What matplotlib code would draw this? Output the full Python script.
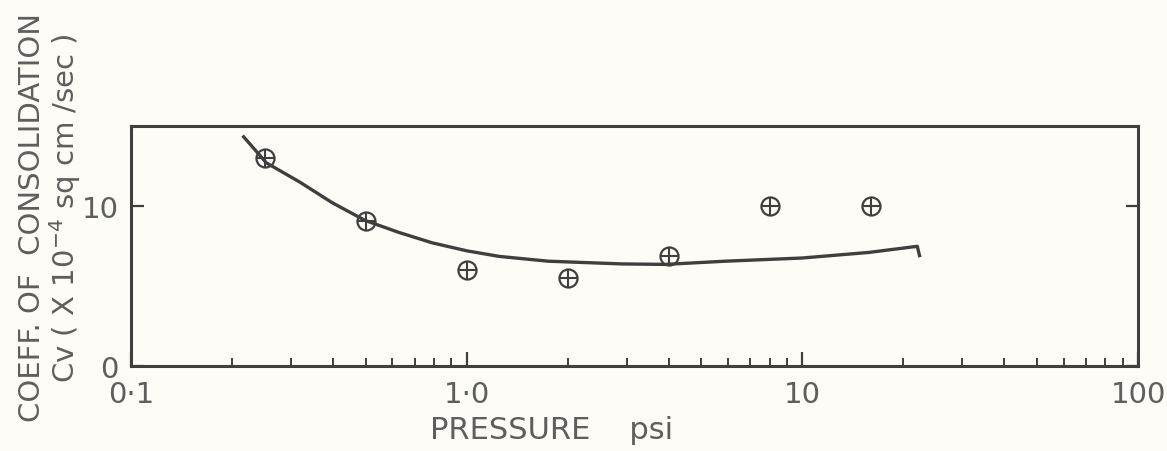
#!/usr/bin/env python3
import matplotlib
matplotlib.use("Agg")
import matplotlib.pyplot as plt
from matplotlib.ticker import FixedLocator, FixedFormatter, LogLocator, NullFormatter

# measured points: pressure (psi) vs Cv (x 1e-4 sq cm/sec)
pressure = [0.25, 0.5, 1.0, 2.0, 4.0, 8.0, 16.0]
cv = [13.0, 9.05, 6.0, 5.5, 6.85, 10.0, 10.0]

# hand-fitted trend line
curve_p = [0.215, 0.253, 0.318, 0.398, 0.498, 0.628, 0.789, 1.0, 1.25,
           1.75, 2.9, 3.9, 5.9, 10.0, 15.8, 22.0, 22.4]
curve_cv = [14.4, 12.7, 11.5, 10.2, 9.1, 8.35, 7.7, 7.2, 6.85,
            6.55, 6.38, 6.35, 6.55, 6.75, 7.1, 7.48, 6.8]

x_ticks = [0.1, 1.0, 10.0, 100.0]
x_tick_labels = ["0\u00b71", "1\u00b70", "10", "100"]
y_ticks = [0, 10]
y_tick_labels = ["0", "10"]

INK = "#3f3f3f"
TEXT = "#5e5e5e"
PAPER = "#fdfcf6"


def main() -> None:
    plt.rcParams["font.family"] = ["DejaVu Sans"]
    fig = plt.figure(figsize=(11.67, 4.52), dpi=100, facecolor=PAPER)
    ax = fig.add_axes([131 / 1167, 1 - 367 / 452, 1007 / 1167, 240 / 452])
    ax.set_facecolor(PAPER)

    ax.plot(curve_p, curve_cv, color=INK, lw=2.4, solid_capstyle="butt")
    ax.plot(pressure, cv, ls="none", marker="o", ms=13, mfc="none",
            mec=INK, mew=1.6)
    ax.plot(pressure, cv, ls="none", marker="+", ms=13, mec=INK, mew=1.5)

    ax.set_xscale("log")
    ax.set_xlim(0.1, 100)
    ax.set_ylim(0, 15)

    ax.xaxis.set_major_locator(FixedLocator(x_ticks))
    ax.xaxis.set_major_formatter(FixedFormatter(x_tick_labels))
    ax.xaxis.set_minor_locator(LogLocator(base=10, subs=range(2, 10)))
    ax.xaxis.set_minor_formatter(NullFormatter())
    ax.yaxis.set_major_locator(FixedLocator(y_ticks))
    ax.yaxis.set_major_formatter(FixedFormatter(y_tick_labels))

    ax.tick_params(axis="x", which="major", direction="in", length=10,
                   width=1.6, color=INK, pad=10, labelsize=21, labelcolor=TEXT)
    ax.tick_params(axis="x", which="minor", direction="in", length=6,
                   width=1.4, color=INK)
    ax.tick_params(axis="y", which="major", direction="in", length=9,
                   width=1.6, color=INK, pad=9, labelsize=21, labelcolor=TEXT,
                   right=True)

    for side in ax.spines.values():
        side.set_color(INK)
        side.set_linewidth(2.2)

    ax.set_xlabel("PRESSURE    psi", fontsize=22, color=TEXT, x=0.418,
                  labelpad=5)

    fig.text(32 / 1167, 1 - 218 / 452, "COEFF. OF  CONSOLIDATION",
             rotation=90, ha="center", va="center", fontsize=21, color=TEXT)
    fig.text(65 / 1167, 1 - 208 / 452, r"Cv ( X 10$^{-4}$ sq cm /sec )",
             rotation=90, ha="center", va="center", fontsize=21, color=TEXT)

    fig.savefig("out.png", dpi=100, facecolor=PAPER)
    plt.close(fig)


if __name__ == "__main__":
    main()
